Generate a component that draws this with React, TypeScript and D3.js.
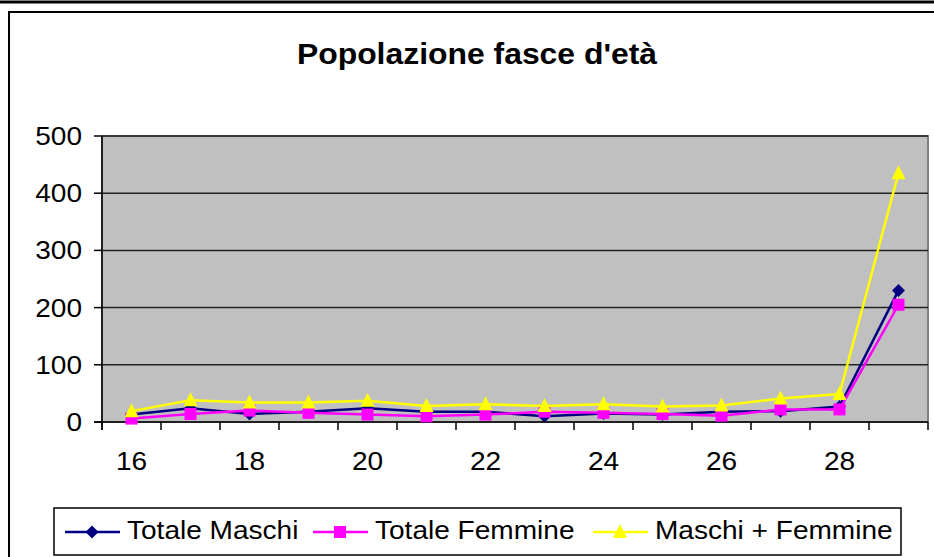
import React from 'react';
import * as d3 from 'd3';

const ages = [16, 17, 18, 19, 20, 21, 22, 23, 24, 25, 26, 27, 28, 29];
const maschi = [13, 24, 14, 18, 24, 18, 18, 10, 15, 13, 18, 19, 27, 230];
const femmine = [6, 14, 20, 16, 13, 10, 13, 18, 16, 14, 11, 22, 22, 205];
const totale = [19, 38, 34, 34, 37, 28, 31, 28, 31, 27, 29, 41, 49, 435];
const yTicks = [0, 100, 200, 300, 400, 500];
const xLabels = [16, 18, 20, 22, 24, 26, 28];

interface Series {
  name: string;
  values: number[];
  color: string;
  marker: 'diamond' | 'square' | 'triangle';
  legendX: number;
}

const series: Series[] = [
  { name: 'Totale Maschi', values: maschi, color: '#000080', marker: 'diamond', legendX: 65 },
  { name: 'Totale Femmine', values: femmine, color: '#FF00FF', marker: 'square', legendX: 313 },
  { name: 'Maschi + Femmine', values: totale, color: '#FFFF00', marker: 'triangle', legendX: 593 }
];

const font = 'Liberation Sans, Arial, sans-serif';
const stretch = 1.1;

function Marker({ kind, x, y, color }: { kind: string; x: number; y: number; color: string }) {
  if (kind === 'diamond') {
    return <path d={`M${x},${y - 6.5}L${x + 6.5},${y}L${x},${y + 6.5}L${x - 6.5},${y}Z`} fill={color} />;
  }
  if (kind === 'square') {
    return <rect x={x - 6} y={y - 6} width={12} height={12} fill={color} />;
  }
  return <path d={`M${x},${y - 8}L${x + 7},${y + 6}L${x - 7},${y + 6}Z`} fill={color} />;
}

function Label(props: { x: number; y: number; size: number; anchor?: string; bold?: boolean; children: React.ReactNode }) {
  const { x, y, size, anchor, bold, children } = props;
  return (
    <text
      transform={`translate(${x},${y}) scale(${stretch},1)`}
      fontFamily={font}
      fontSize={size}
      fontWeight={bold ? 'bold' : 'normal'}
      textAnchor={anchor || 'start'}
      fill="#000"
    >
      {children}
    </text>
  );
}

export default function App() {
  const width = 934;
  const height = 557;
  const plot = { left: 102, right: 928, top: 136, bottom: 422 };

  const xScale = d3
    .scaleBand<number>()
    .domain(ages)
    .range([plot.left, plot.right])
    .padding(0);
  const center = (a: number) => xScale(a)! + xScale.bandwidth() / 2;

  const yScale = d3.scaleLinear().domain([0, 500]).range([plot.bottom, plot.top]);

  const line = d3
    .line<number>()
    .x((d, i) => center(ages[i]))
    .y(d => yScale(d));

  const tickXs = ages.map(a => xScale(a)!).concat([plot.right]);

  return (
    <svg width={width} height={height} style={{ position: 'absolute', left: 0, top: 0 }}>
      <rect width={width} height={height} fill="#fff" />
      <line x1={0} x2={width} y1={2} y2={2} stroke="#000" strokeWidth={3} />
      <rect x={9} y={12} width={width + 20} height={height + 20} fill="none" stroke="#000" strokeWidth={2} />

      <Label x={477} y={64} size={29} anchor="middle" bold>
        Popolazione fasce d'età
      </Label>

      <rect
        x={plot.left}
        y={plot.top}
        width={plot.right - plot.left}
        height={plot.bottom - plot.top}
        fill="#C0C0C0"
        stroke="#808080"
        strokeWidth={2}
      />

      {yTicks.map(t => (
        <g key={t}>
          {t > 0 && (
            <line x1={plot.left} x2={plot.right} y1={yScale(t)} y2={yScale(t)} stroke="#222" strokeWidth={1.5} />
          )}
          <line x1={plot.left - 8} x2={plot.left} y1={yScale(t)} y2={yScale(t)} stroke="#000" strokeWidth={1.5} />
          <Label x={82} y={yScale(t) + 9} size={25.5} anchor="end">
            {t}
          </Label>
        </g>
      ))}

      <line x1={plot.left} x2={plot.left} y1={plot.top} y2={plot.bottom + 8} stroke="#000" strokeWidth={1.5} />
      <line x1={plot.left - 8} x2={plot.right} y1={plot.bottom} y2={plot.bottom} stroke="#000" strokeWidth={1.5} />
      {tickXs.map((x, i) => (
        <line key={i} x1={x} x2={x} y1={plot.bottom} y2={plot.bottom + 8} stroke="#000" strokeWidth={1.5} />
      ))}
      {xLabels.map(a => (
        <Label key={a} x={center(a)} y={470} size={25.5} anchor="middle">
          {a}
        </Label>
      ))}

      {series.map(s => (
        <g key={s.name}>
          <path d={line(s.values)!} fill="none" stroke={s.color} strokeWidth={2.5} />
          {s.values.map((v, i) => (
            <Marker key={i} kind={s.marker} x={center(ages[i])} y={yScale(v)} color={s.color} />
          ))}
        </g>
      ))}

      <rect x={54} y={508} width={847} height={47} fill="#fff" stroke="#000" strokeWidth={1.5} />
      {series.map(s => (
        <g key={s.name}>
          <line x1={s.legendX} x2={s.legendX + 55} y1={532} y2={532} stroke={s.color} strokeWidth={2.5} />
          <Marker kind={s.marker} x={s.legendX + 27} y={532} color={s.color} />
          <Label x={s.legendX + 62} y={539} size={25.5}>
            {s.name}
          </Label>
        </g>
      ))}
    </svg>
  );
}
